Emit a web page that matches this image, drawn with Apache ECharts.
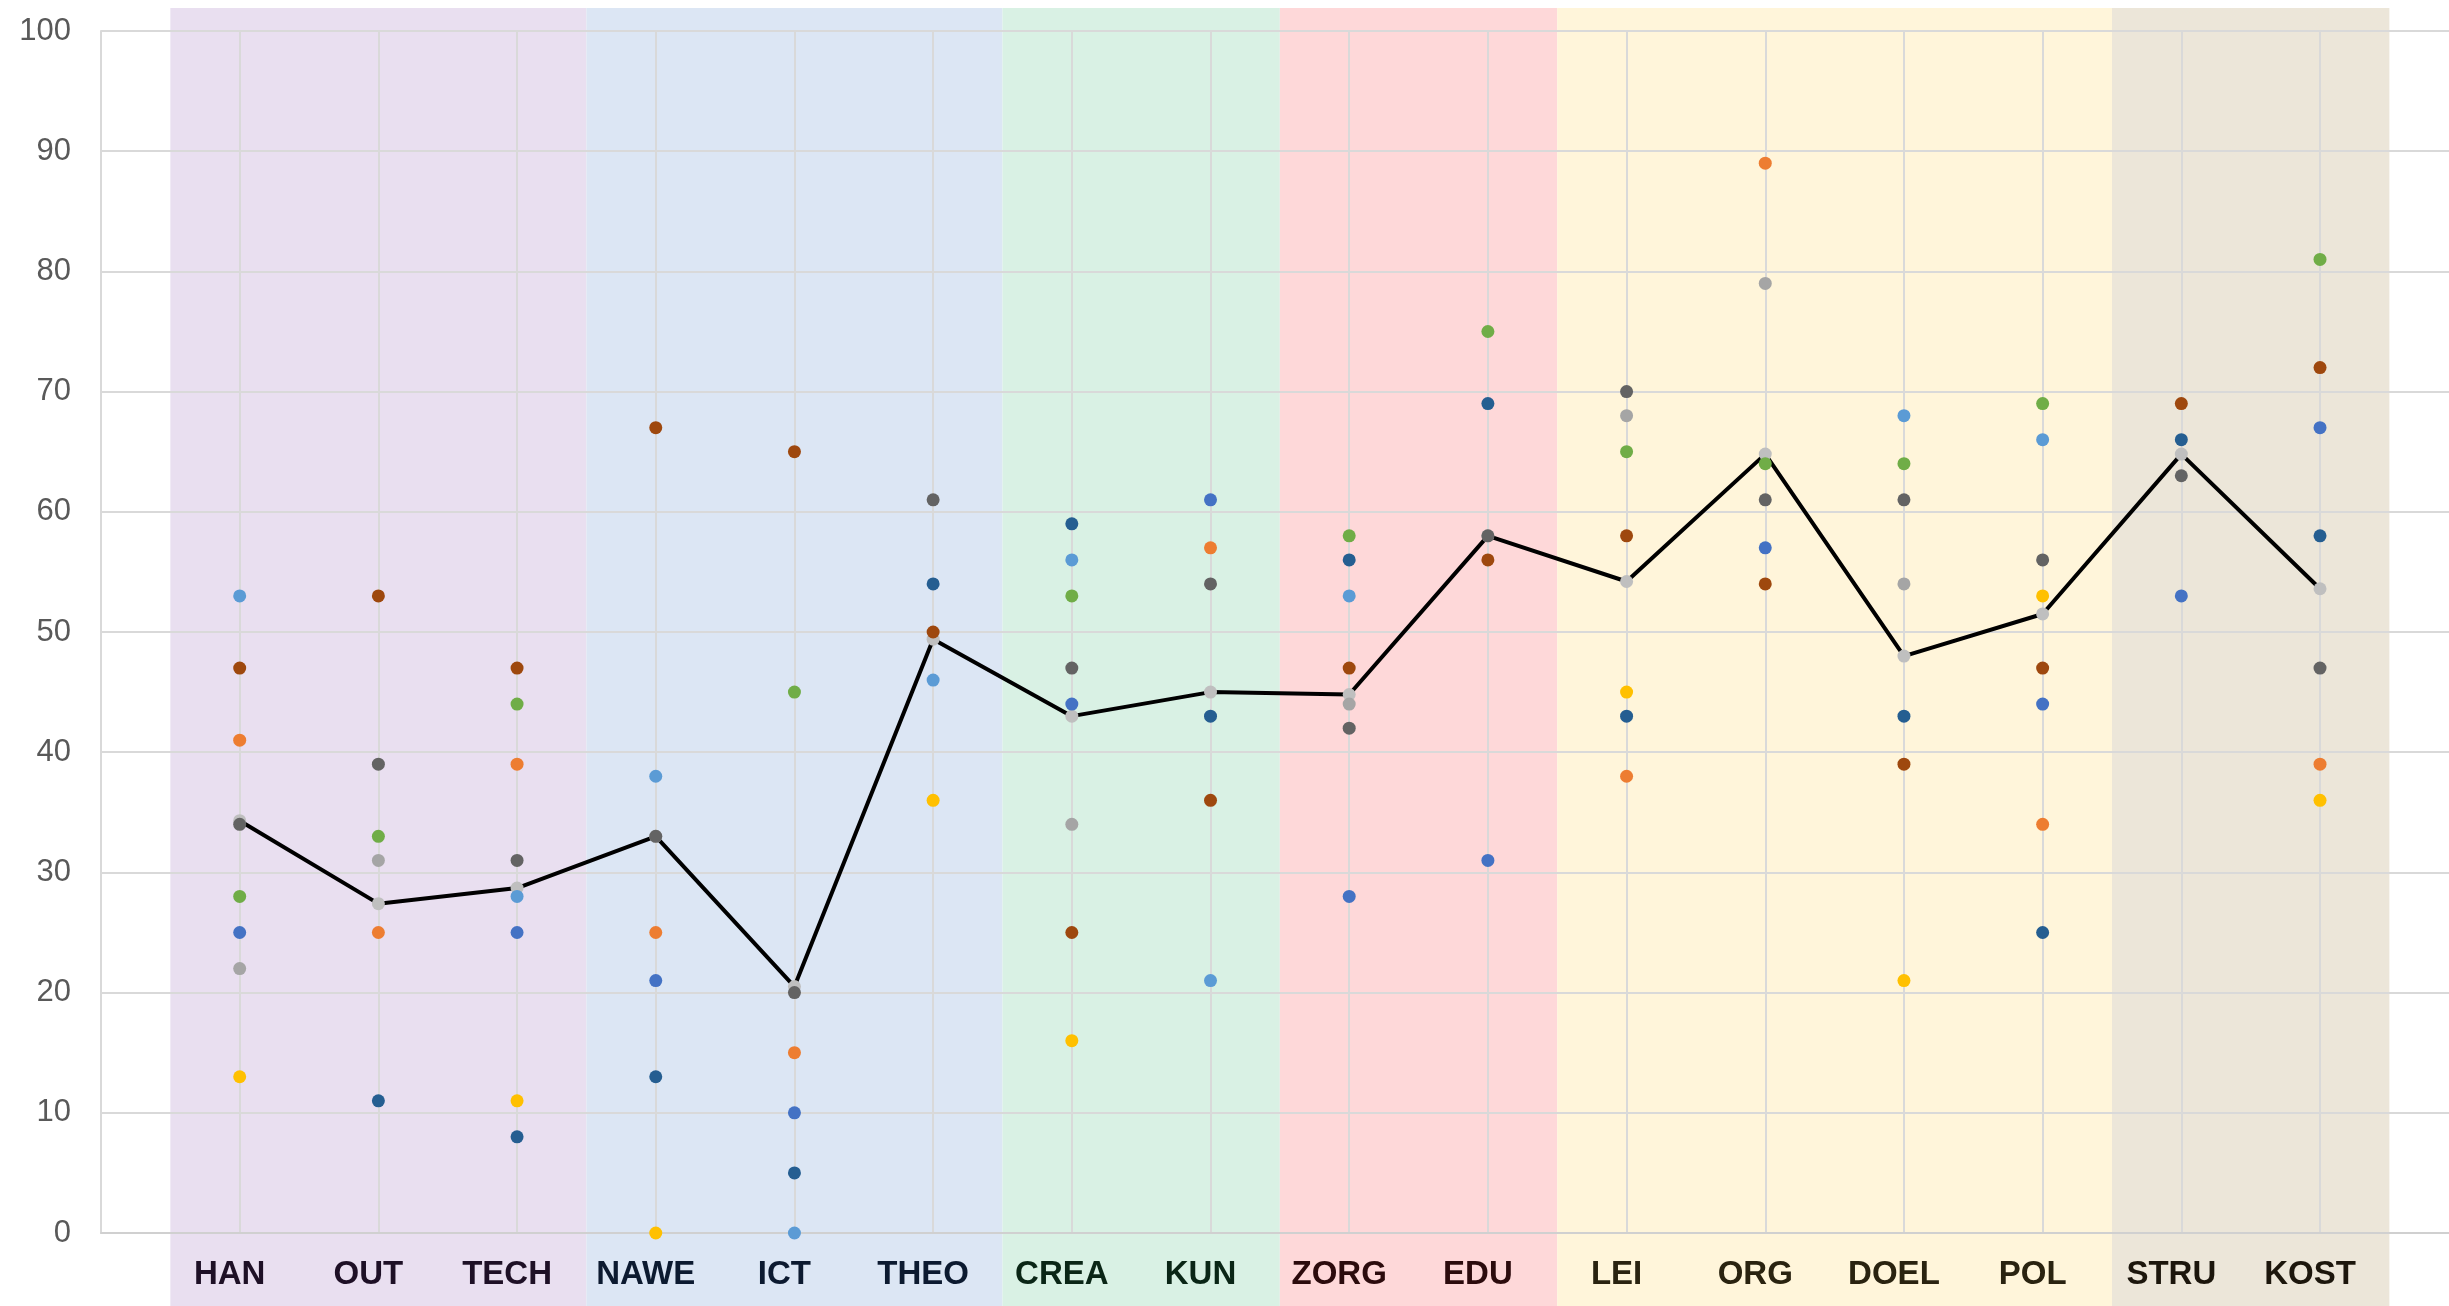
<!DOCTYPE html>
<html>
<head>
<meta charset="utf-8">
<script src="https://cdn.jsdelivr.net/npm/echarts@6/dist/echarts.min.js"></script>
<style>
  html, body { margin: 0; padding: 0; background: #fff; }
  #chart { width: 2449px; height: 1306px; }
</style>
</head>
<body>
<div id="chart"></div>
<script>
// categories and how many belong to each coloured group
const categories = ['HAN', 'OUT', 'TECH', 'NAWE', 'ICT', 'THEO', 'CREA', 'KUN', 'ZORG', 'EDU', 'LEI', 'ORG', 'DOEL', 'POL', 'STRU', 'KOST'];
const groupSizes = [3, 3, 2, 2, 4, 2];

// scores per series (null = no point)
const blue      = [25, null, 25, 21, 10, null, 44, 61, 28, 31, null, 57, null, 44, 53, 67];
const orange    = [41, 25, 39, 25, 15, null, null, 57, null, null, 38, 89, null, 34, null, 39];
const gray      = [22, 31, null, null, null, null, 34, null, 44, null, 68, 79, 54, null, null, null];
const gold      = [13, null, 11, 0, null, 36, 16, null, null, null, 45, null, 21, 53, null, 36];
const lightBlue = [53, null, 28, 38, 0, 46, 56, 21, 53, null, null, null, 68, 66, null, null];
const green     = [28, 33, 44, null, 45, null, 53, null, 58, 75, 65, 64, 64, 69, null, 81];
const darkBlue  = [null, 11, 8, 13, 5, 54, 59, 43, 56, 69, 43, null, 43, 25, 66, 58];
const brown     = [47, 53, 47, 67, 65, 50, 25, 36, 47, 56, 58, 54, 39, 47, 69, 72];
const darkGray  = [34, 39, 31, 33, 20, 61, 47, 54, 42, 58, 70, 61, 61, 56, 63, 47];
const average   = [34.3, 27.4, 28.7, 33.0, 20.5, 49.4, 43.0, 45.0, 44.8, 58.0, 54.2, 64.8, 48.0, 51.5, 64.8, 53.6];

// styles
const bandColors  = ['#E9DFF0', '#DCE6F4', '#D9F1E4', '#FED8D9', '#FFF5DA', '#ECE6D9'];
const labelColors = ['#1E1026', '#0C1A30', '#0A2616', '#2C0B0D', '#2A2310', '#1C160C'];

const groupOf = [];
groupSizes.forEach((n, g) => { for (let k = 0; k < n; k++) groupOf.push(g); });

const chart = echarts.init(document.getElementById('chart'));

const toPoints = arr => arr.map((v, i) => v == null ? null : [i + 1, v]).filter(Boolean);

const dotSeries = [
  { data: blue, color: '#4472C4' },
  { data: orange, color: '#ED7D31' },
  { data: gray, color: '#A5A5A5' },
  { data: gold, color: '#FFC000' },
  { data: lightBlue, color: '#5B9BD5' },
  { data: green, color: '#70AD47' },
  { data: darkBlue, color: '#255E91' },
  { data: brown, color: '#9E480E' },
  { data: darkGray, color: '#636363' }
].map(s => ({
  type: 'scatter',
  z: 10,
  symbolSize: 13,
  itemStyle: { color: s.color, opacity: 1 },
  data: toPoints(s.data)
}));

chart.setOption({
  animation: false,
  grid: { left: 101, top: 31, right: 0, height: 1202 },
  xAxis: {
    type: 'value',
    min: 0,
    max: 16.93,
    interval: 1,
    z: 5,
    axisLine: { show: true, onZero: false, lineStyle: { color: '#D0D0D0', width: 2 } },
    axisTick: { show: false },
    splitLine: { show: true, showMaxLine: false, lineStyle: { color: '#D9D9D9', width: 2 } },
    axisLabel: {
      margin: 25,
      fontSize: 33,
      fontWeight: 'bold',
      fontFamily: 'Liberation Sans, Arial, sans-serif',
      padding: [0, 20, 0, 0],
      showMaxLabel: false,
      formatter: v => categories[v - 1] || '',
      color: v => {
        const i = Number(v) - 1;
        return i >= 0 && i < categories.length ? labelColors[groupOf[i]] : '#000';
      }
    }
  },
  yAxis: {
    type: 'value',
    min: 0,
    max: 100,
    interval: 10,
    z: 5,
    axisLine: { show: true, lineStyle: { color: '#D9D9D9', width: 2 } },
    axisTick: { show: false },
    splitLine: { show: true, lineStyle: { color: '#D9D9D9', width: 2 } },
    axisLabel: {
      margin: 30,
      fontSize: 31,
      color: '#595959',
      fontFamily: 'Liberation Sans, Arial, sans-serif'
    }
  },
  series: [
    {
      type: 'line',
      z: 8,
      data: toPoints(average),
      symbol: 'circle',
      symbolSize: 13,
      itemStyle: { color: '#BFBFBF', borderWidth: 0 },
      lineStyle: { color: '#000', width: 4 }
    },
    ...dotSeries
  ]
});

// coloured background bands per group, placed through the x axis scale
const rects = [];
let start = 0;
groupSizes.forEach((n, g) => {
  const x0 = chart.convertToPixel({ xAxisIndex: 0 }, start + 0.5);
  const x1 = chart.convertToPixel({ xAxisIndex: 0 }, start + n + 0.5);
  rects.push({
    type: 'rect',
    z: 1,
    silent: true,
    shape: { x: x0, y: 8, width: x1 - x0, height: 1306 - 8 },
    style: { fill: bandColors[g] }
  });
  start += n;
});
chart.setOption({ graphic: rects });
</script>
</body>
</html>
